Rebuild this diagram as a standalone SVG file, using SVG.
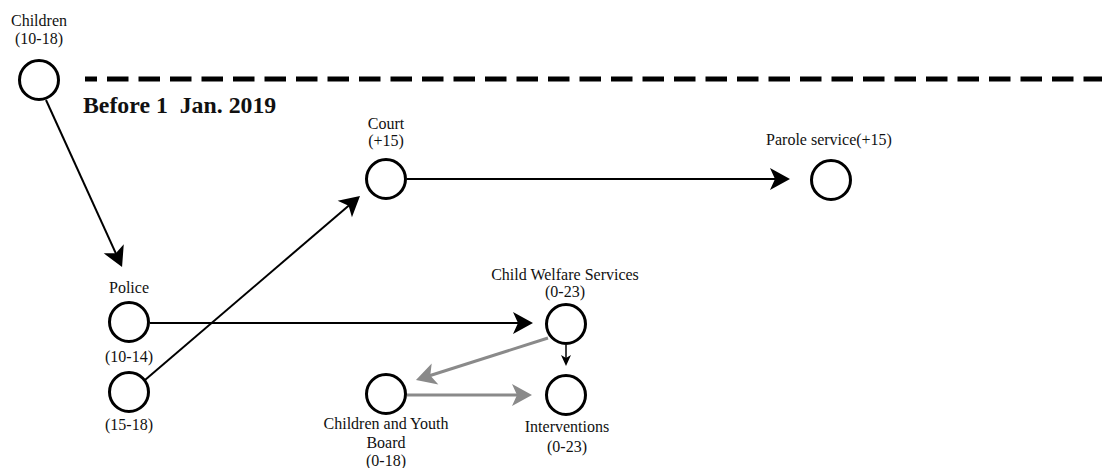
<svg xmlns="http://www.w3.org/2000/svg" width="1102" height="468" viewBox="0 0 1102 468">
<style>
  .node { fill: #ffffff; stroke: #000000; stroke-width: 3; }
  .lbl { font-family: "Liberation Serif", "Times New Roman", serif; font-size: 16px; fill: #111111; text-anchor: middle; }
  .title { font-family: "Liberation Serif", "Times New Roman", serif; font-size: 23.8px; font-weight: bold; fill: #111111; }
  .edge { fill: none; stroke: #000000; stroke-width: 2; }
  .edge-gray { fill: none; stroke: #8a8a8a; stroke-width: 3; }
  .edge-thin { fill: none; stroke: #000000; stroke-width: 1.5; }
</style>
<defs>
  <marker id="arrow" markerUnits="userSpaceOnUse" markerWidth="24" markerHeight="26" viewBox="-1 -12 24 24" refX="10" refY="0" orient="auto">
    <path d="M0,-11 L20,0 L0,11 L5,0 Z" fill="#000000"/>
  </marker>
  <marker id="arrow-gray" markerUnits="userSpaceOnUse" markerWidth="24" markerHeight="26" viewBox="-1 -12 24 24" refX="10" refY="0" orient="auto">
    <path d="M0,-11 L20,0 L0,11 L5,0 Z" fill="#8a8a8a"/>
  </marker>
  <marker id="arrow-small" markerUnits="userSpaceOnUse" markerWidth="14" markerHeight="14" viewBox="-1 -7 14 14" refX="6" refY="0" orient="auto">
    <path d="M0,-5 L11,0 L0,5 L3,0 Z" fill="#000000"/>
  </marker>
</defs>
<rect x="0" y="0" width="1102" height="468" fill="#ffffff"/>

<line x1="85" y1="79" x2="1102" y2="79" stroke="#000000" stroke-width="5" stroke-dasharray="21.5 10" stroke-dashoffset="9.5"/>
<text class="title" x="83" y="113" xml:space="preserve">Before 1  Jan. 2019</text>

<g id="connectors">
  <line class="edge" x1="46" y1="100" x2="117.9" y2="257.9" marker-end="url(#arrow)"/>
  <line class="edge" x1="150" y1="323" x2="523" y2="323" marker-end="url(#arrow)"/>
  <line class="edge" x1="145" y1="380" x2="352.4" y2="202.5" marker-end="url(#arrow)"/>
  <line class="edge" x1="407" y1="179" x2="780" y2="179" marker-end="url(#arrow)"/>
  <line class="edge-gray" x1="548" y1="338" x2="425.5" y2="377" marker-end="url(#arrow-gray)"/>
  <line class="edge-gray" x1="407" y1="395" x2="522" y2="395" marker-end="url(#arrow-gray)"/>
  <line class="edge-thin" x1="566" y1="345" x2="566" y2="361" marker-end="url(#arrow-small)"/>
</g>

<g id="children">
  <circle class="node" cx="39" cy="80" r="19.5"/>
  <text class="lbl" x="39" y="26">Children</text>
  <text class="lbl" x="39" y="44">(10-18)</text>
</g>
<g id="court">
  <circle class="node" cx="386" cy="179" r="19.5"/>
  <text class="lbl" x="386" y="129">Court</text>
  <text class="lbl" x="386" y="146">(+15)</text>
</g>
<g id="parole">
  <circle class="node" cx="831" cy="180" r="19.5"/>
  <text class="lbl" x="829" y="145">Parole service(+15)</text>
</g>
<g id="police">
  <circle class="node" cx="129" cy="322" r="19.5"/>
  <text class="lbl" x="129" y="293">Police</text>
  <text class="lbl" x="129" y="362">(10-14)</text>
</g>
<g id="police-15-18">
  <circle class="node" cx="129" cy="392" r="19.5"/>
  <text class="lbl" x="129" y="430">(15-18)</text>
</g>
<g id="cws">
  <circle class="node" cx="566" cy="324" r="19.5"/>
  <text class="lbl" x="565" y="280">Child Welfare Services</text>
  <text class="lbl" x="565" y="297">(0-23)</text>
</g>
<g id="cyb">
  <circle class="node" cx="386" cy="394" r="19.5"/>
  <text class="lbl" x="386" y="429">Children and Youth</text>
  <text class="lbl" x="386" y="448">Board</text>
  <text class="lbl" x="386" y="466">(0-18)</text>
</g>
<g id="interventions">
  <circle class="node" cx="566" cy="395" r="19.5"/>
  <text class="lbl" x="567" y="432">Interventions</text>
  <text class="lbl" x="567" y="452">(0-23)</text>
</g>
</svg>
